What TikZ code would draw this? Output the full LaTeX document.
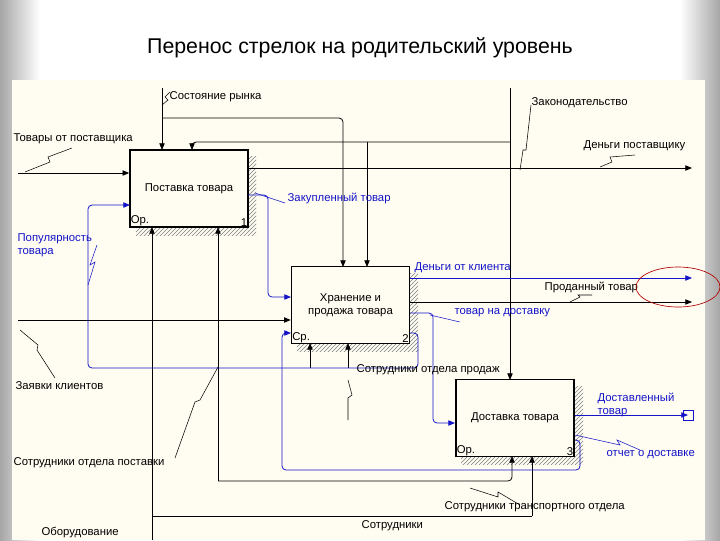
\documentclass[tikz,border=0pt]{standalone}
\usepackage{fontspec}
\setmainfont{Liberation Sans}
\usetikzlibrary{arrows.meta,patterns}
\definecolor{bl}{RGB}{20,20,200}
\definecolor{paper}{RGB}{255,253,242}
\tikzset{
  proc/.style={draw,line width=1.2pt,fill=paper,minimum width=88.5pt,minimum height=57.75pt,inner sep=0pt},
  shad/.style={pattern=north east lines,pattern color=gray},
  lab/.style={font=\fontsize{8.5}{9.5}\selectfont,inner sep=1pt,align=left},
  ar/.style={-{Triangle[length=5pt,width=4pt]},line width=0.6pt,rounded corners=3pt},
  ln/.style={line width=0.6pt,rounded corners=3pt},
  sq/.style={line width=0.4pt},
}
\begin{document}
\begin{tikzpicture}[x=0.75pt,y=-0.75pt]
\useasboundingbox (0,0) rectangle (720,540);
\shade[left color=gray!70,right color=white] (0,0) rectangle (40,540);
\shade[left color=white,right color=gray!70] (680,0) rectangle (720,540);
\fill[white] (40,0) rectangle (680,80);
\fill[paper] (12,80) rectangle (705,540);
\node[font=\fontsize{16}{18}\selectfont] (title) at (360,48) {Перенос стрелок на родительский уровень};
% shadows
\fill[shad] (136,156) rectangle (256,235);
\fill[shad] (297,273) rectangle (418,351);
\fill[shad] (461,386) rectangle (583,464);
% boxes
\node[proc] (b1) at (189,188.5) {};
\node[lab] at (b1) {Поставка товара};
\node[lab,anchor=south west] at (b1.south west) {Ор.};
\node[lab,anchor=south east] at (b1.south east) {1};
\node[proc] (b2) at (350.5,305) {};
\node[lab,align=center] at (b2) {Хранение и\\продажа товара};
\node[lab,anchor=south west] at (b2.south west) {Ср.};
\node[lab,anchor=south east] at (b2.south east) {2};
\node[proc] (b3) at (515,418) {};
\node[lab] at (b3) {Доставка товара};
\node[lab,anchor=south west] at (b3.south west) {Ор.};
\node[lab,anchor=south east] at (b3.south east) {3};
% coordinates
\coordinate (sr) at (162,88);
\coordinate (zk) at (510,88);
\coordinate (tp) at (18,173);
\coordinate (zkl) at (18,320);
\coordinate (ob) at (152,540);
% black arrows
\draw[ar] (tp) -- (tp -| b1.west);
\draw[ar] (sr) -- (162,150);
\draw[ar] (162,118) -- (343,118) -- (343,267);
\draw[ar] (zk) -- (510,380);
\draw[ar] (510,142) -- (192,142) -- (192,150);
\draw[ar] (367,142) -- (367,267);
\draw[ar] (248,168) -- (692,168);
\draw[ar] (zkl) -- (zkl -| b2.west);
\draw[ar] (ob) -- (152,227);
\draw[ln] (152,516) -- (532,516);
\draw[ar] (532,516) -- (532,456);
\draw[ar] (218,481) -- (512,481) -- (512,456);
\draw[ar] (218,481) -- (218,227);
\draw[ar] (310,368) -- (310,343);
\draw[ar] (348,368) -- (348,343);
\draw[ar] (410,302) -- (692,302);
% blue arrows
\begin{scope}[bl]
\draw[ar] (248,195) -- (268,195) -- (268,297) -- (291,297);
\draw[ar] (410,333) -- (418,333) -- (418,368) -- (88,368) -- (88,205) -- (130,205);
\draw[ar] (575,440) -- (580,440) -- (580,470) -- (282,470) -- (282,333) -- (291,333);
\draw[ar] (410,278) -- (692,278);
\draw[ar] (410,313) -- (433,313) -- (433,423) -- (455,423);
\draw[ar] (575,415) -- (688,415);
\draw (683,410) rectangle (693,420);
\draw[sq] (575,435) -- (620,445) -- (617,440) -- (640,450);
\draw[sq] (255,193) -- (285,203);
\draw[sq] (88,285) -- (95,262) -- (90,265) -- (97,245);
\draw[sq] (430,315) -- (460,322);
\end{scope}
% squiggles (black)
\draw[sq] (25,172) -- (50,162) -- (48,157) -- (72,148);
\draw[sq] (162,105) -- (168,100) -- (165,97) -- (170,92);
\draw[sq] (520,170) -- (523,150) -- (526,150) -- (531,105);
\draw[sq] (600,167) -- (612,162) -- (610,157) -- (635,155);
\draw[sq] (20,330) -- (38,345) -- (37,350) -- (55,378);
\draw[sq] (218,367) -- (200,400) -- (195,402) -- (175,458);
\draw[sq] (348,380) -- (352,395) -- (348,398) -- (348,420);
\draw[sq] (470,488) -- (498,497) -- (498,492) -- (520,505);
\draw[sq] (570,302) -- (580,297) -- (578,295) -- (592,295);
% labels
\node[lab,anchor=west] at (168,97) {Состояние рынка};
\node[lab,anchor=west] at (12,139) {Товары от поставщика};
\node[lab,anchor=west] at (530,103) {Законодательство};
\node[lab,anchor=west] at (582,146) {Деньги поставщику};
\node[lab,anchor=west,bl] at (286,198) {Закупленный товар};
\node[lab,anchor=west,bl] at (16,245) {Популярность\\товара};
\node[lab,anchor=west,bl] at (413,268) {Деньги от клиента};
\node[lab,anchor=west] at (543,287) {Проданный товар};
\node[lab,anchor=west,bl] at (453,313) {товар на доставку};
\node[lab,anchor=west] at (14,386) {Заявки клиентов};
\node[lab,anchor=west] at (355,370) {Сотрудники отдела продаж};
\node[lab,anchor=west,bl] at (596,405) {Доставленный\\товар};
\node[lab,anchor=west,bl] at (605,455) {отчет о доставке};
\node[lab,anchor=west] at (12,463) {Сотрудники отдела поставки};
\node[lab,anchor=west] at (443,507) {Сотрудники транспортного отдела};
\node[lab,anchor=west] at (360,526) {Сотрудники};
\node[lab,anchor=west] at (40,533) {Оборудование};
\draw[red!70!black,line width=0.5pt] (678,287) ellipse [x radius=42,y radius=20];
\end{tikzpicture}
\end{document}
